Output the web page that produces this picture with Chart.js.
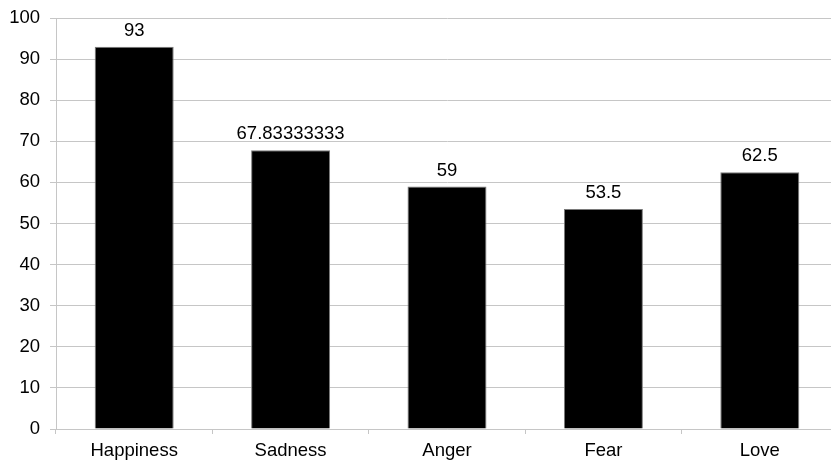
<!DOCTYPE html>
<html>
<head>
<meta charset="utf-8">
<script src="https://cdn.jsdelivr.net/npm/chart.js@4"></script>
<style>
  html, body { margin: 0; padding: 0; background: #fff; overflow: hidden; }
  #wrap { width: 838px; height: 461px; }
</style>
</head>
<body>
<div id="wrap"><canvas id="chart"></canvas></div>
<script>
const categories = ['Happiness', 'Sadness', 'Anger', 'Fear', 'Love'];
const scores = [93, 67.83333333, 59, 53.5, 62.5];
const scoreLabels = ['93', '67.83333333', '59', '53.5', '62.5'];
const yTicks = [0, 10, 20, 30, 40, 50, 60, 70, 80, 90, 100];

const FONT = '"Liberation Sans", Arial, sans-serif';
const FONT_SIZE = 18.5;
const GRID = '#c6c6c6';

// Writes each bar's value just above its top edge
const valueLabels = {
  id: 'valueLabels',
  afterDatasetsDraw(chart) {
    const ctx = chart.ctx;
    const meta = chart.getDatasetMeta(0);
    ctx.save();
    ctx.font = FONT_SIZE + 'px ' + FONT;
    ctx.fillStyle = '#000';
    ctx.textAlign = 'center';
    ctx.textBaseline = 'alphabetic';
    meta.data.forEach((bar, i) => {
      ctx.fillText(scoreLabels[i], bar.x, bar.y - 11);
    });
    ctx.restore();
  }
};

new Chart(document.getElementById('chart'), {
  type: 'bar',
  data: {
    labels: categories,
    datasets: [{
      data: scores,
      backgroundColor: '#000',
      borderColor: '#7a7a7a',
      borderWidth: 1,
      categoryPercentage: 1,
      barPercentage: 0.505
    }]
  },
  options: {
    responsive: true,
    maintainAspectRatio: false,
    animation: false,
    layout: { padding: { top: 18, right: 0, left: 0, bottom: 0 } },
    plugins: { legend: { display: false }, tooltip: { enabled: false } },
    scales: {
      x: {
        afterFit(s) { s.height = 32; s.paddingLeft = 0; s.paddingRight = 0; },
        grid: {
          offset: true,
          drawOnChartArea: false,
          drawTicks: true,
          tickLength: 5,
          color: GRID
        },
        border: { color: GRID },
        ticks: { color: '#000', font: { size: FONT_SIZE, family: FONT }, padding: 6 }
      },
      y: {
        min: 0,
        max: 100,
        afterFit(s) { s.width = 56; s.paddingTop = 0; s.paddingBottom = 0; },
        afterBuildTicks(s) { s.ticks = yTicks.map(v => ({ value: v })); },
        grid: { color: GRID, tickLength: 6 },
        border: { color: GRID },
        ticks: { color: '#000', font: { size: FONT_SIZE, family: FONT }, padding: 10 }
      }
    }
  },
  plugins: [valueLabels]
});
</script>
</body>
</html>
